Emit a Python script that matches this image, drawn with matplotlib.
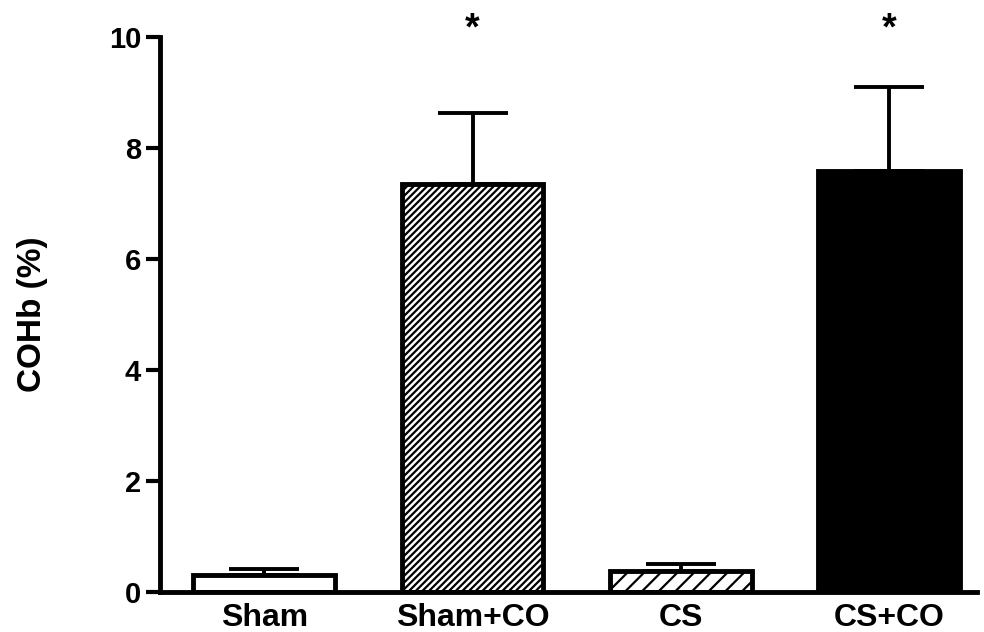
import matplotlib
matplotlib.use('Agg')
import matplotlib.pyplot as plt

# Data
groups = ['Sham', 'Sham+CO', 'CS', 'CS+CO']
cohb = [0.30, 7.35, 0.37, 7.58]
sem = [0.11, 1.28, 0.13, 1.52]
signif = ['', '*', '', '*']

plt.rcParams['font.family'] = ['Liberation Sans', 'DejaVu Sans']
plt.rcParams['font.weight'] = 'bold'
plt.rcParams['hatch.linewidth'] = 1.6

fig = plt.figure(figsize=(9.84, 6.32), dpi=100)
ax = fig.add_axes([0.1626, 0.0633, 0.83, 0.878])

colors = ['white', 'white', 'white', 'black']
hatches = ['', '/////', '//', '']
x = range(len(groups))
bars = ax.bar(x, cohb, width=0.68, color=colors, edgecolor='black', linewidth=3.5,
              hatch=hatches, zorder=2)
ax.errorbar(x, cohb, yerr=[[0] * len(sem), sem], fmt='none', ecolor='black',
            elinewidth=2.8, capsize=25, capthick=2.8, zorder=1)

for xi, s in zip(x, signif):
    if s:
        ax.text(xi, 9.95, s, ha='center', va='baseline', fontsize=27,
                fontweight='bold', clip_on=False)

ax.set_xlim(-0.5, 3.42)
ax.set_ylim(0, 10)
ax.set_yticks([0, 2, 4, 6, 8, 10])
ax.set_xticks(list(x))
ax.set_xticklabels(groups)
ax.set_ylabel('COHb (%)', fontsize=24, fontweight='bold', labelpad=44)
ax.tick_params(axis='y', labelsize=21, width=3, length=10, direction='out')
ax.tick_params(axis='x', labelsize=23, length=0, pad=8)
for side in ['top', 'right']:
    ax.spines[side].set_visible(False)
for side in ['left', 'bottom']:
    ax.spines[side].set_linewidth(3.5)

fig.savefig('out.png', dpi=100)
